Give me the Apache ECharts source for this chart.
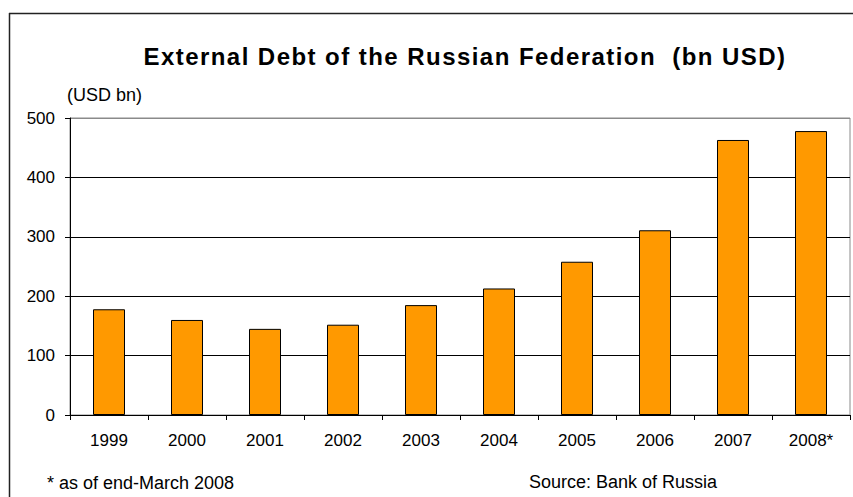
<!DOCTYPE html>
<html>
<head>
<meta charset="utf-8">
<script src="https://cdn.jsdelivr.net/npm/echarts@6/dist/echarts.min.js"></script>
<style>
  html, body { margin: 0; padding: 0; background: #fff; }
  #chart { width: 853px; height: 497px; }
</style>
</head>
<body>
<div id="chart"></div>
<script>
// External debt of the Russian Federation, bn USD (end of year; 2008 = end-March)
const years = ['1999', '2000', '2001', '2002', '2003', '2004', '2005', '2006', '2007', '2008*'];
const debt = [178, 160, 145, 152, 185, 213, 258, 311, 463, 478];
const yTicks = [0, 100, 200, 300, 400, 500];

const TITLE = 'External Debt of the Russian Federation  (bn USD)';
const FONT = '"Liberation Sans", Arial, sans-serif';

const chart = echarts.init(document.getElementById('chart'), null, { renderer: 'svg' });

chart.setOption({
  backgroundColor: '#ffffff',
  animation: false,
  title: {
    text: TITLE,
    left: 460,
    top: 39,
    textAlign: 'center',
    textStyle: {
      fontFamily: FONT,
      fontSize: 24,
      fontWeight: 'bold',
      color: '#000'
    }
  },
  graphic: [
    // outer frame (top and left edges)
    { type: 'line', shape: { x1: 9, y1: 13.5, x2: 853, y2: 13.5 }, style: { stroke: '#222', lineWidth: 1.5 } },
    { type: 'line', shape: { x1: 9.5, y1: 13, x2: 9.5, y2: 497 }, style: { stroke: '#222', lineWidth: 1.5 } },
    { type: 'text', left: 67, top: 86, style: { text: '(USD bn)', font: '18px ' + FONT, fill: '#000' } },
    { type: 'text', left: 47, top: 474, style: { text: '* as of end-March 2008', font: '18px ' + FONT, fill: '#000' } },
    { type: 'text', left: 529, top: 473, style: { text: 'Source: Bank of Russia', font: '18px ' + FONT, fill: '#000' } }
  ],
  grid: {
    left: 70,
    right: 3,
    top: 118,
    bottom: 82,
    show: true,
    borderColor: '#8a8a8a',
    borderWidth: 1,
    containLabel: false
  },
  xAxis: {
    type: 'category',
    data: years,
    boundaryGap: true,
    axisLine: { show: true, lineStyle: { color: '#000', width: 1 } },
    axisTick: { show: true, inside: false, length: 5, alignWithLabel: false, lineStyle: { color: '#000' } },
    axisLabel: { color: '#000', fontFamily: FONT, fontSize: 17, margin: 17 },
    splitLine: { show: false }
  },
  yAxis: {
    type: 'value',
    min: yTicks[0],
    max: yTicks[yTicks.length - 1],
    interval: 100,
    axisLine: { show: true, lineStyle: { color: '#000', width: 1 } },
    axisTick: { show: true, inside: false, length: 5, lineStyle: { color: '#000' } },
    axisLabel: { color: '#000', fontFamily: FONT, fontSize: 17, margin: 15 },
    splitLine: {
      show: true,
      lineStyle: { color: ['#000', '#000', '#000', '#000', '#000', '#8a8a8a'], width: 1 }
    }
  },
  series: [{
    type: 'bar',
    data: debt,
    barWidth: 32,
    itemStyle: {
      color: '#FF9900',
      borderColor: '#000',
      borderWidth: 1
    },
    label: { show: false }
  }]
});

// widen the tracking of the title text
function spaceTitle() {
  document.querySelectorAll('#chart svg text').forEach(function (t) {
    if (t.textContent === TITLE) {
      t.style.letterSpacing = '1.45px';
    }
  });
}
chart.getZr().flush();
spaceTitle();
chart.on('finished', spaceTitle);
</script>
</body>
</html>
